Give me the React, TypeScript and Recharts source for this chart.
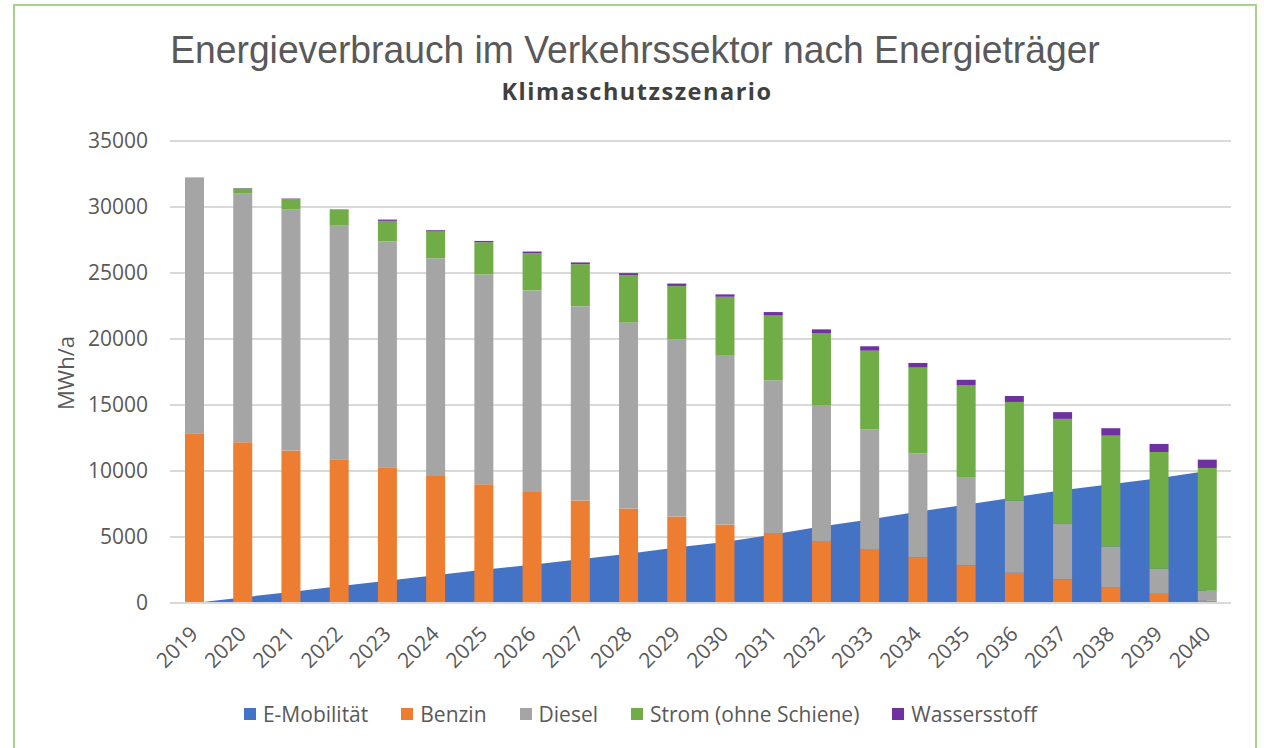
import React from 'react';
import { ComposedChart, Bar, Area, XAxis, YAxis, CartesianGrid } from 'recharts';

const years = ['2019','2020','2021','2022','2023','2024','2025','2026','2027','2028','2029','2030','2031','2032','2033','2034','2035','2036','2037','2038','2039','2040'];
const eMobilitaet = [0,420,840,1260,1680,2100,2520,2900,3320,3740,4200,4630,5180,5800,6320,6920,7440,8000,8540,9000,9450,10000];
const benzin = [12860,12180,11550,10890,10290,9630,9000,8400,7760,7160,6550,5950,5300,4690,4090,3480,2870,2290,1790,1210,700,170];
const diesel = [19360,18830,18250,17700,17100,16490,15890,15280,14730,14100,13440,12840,11570,10310,9080,7870,6680,5450,4240,3070,1890,760];
const strom = [30,400,780,1210,1560,2020,2440,2820,3180,3580,4030,4410,4940,5450,5950,6480,6960,7490,7920,8400,8850,9300];
const wasserstoff = [0,25,60,25,100,100,100,125,130,150,180,180,230,280,330,355,400,450,510,560,610,630];
const yTicks = [0,5000,10000,15000,20000,25000,30000,35000];

const seriesNames = ['E-Mobilität','Benzin','Diesel','Strom (ohne Schiene)','Wassersstoff'];
const seriesColors = ['#4472C4','#ED7D31','#A5A5A5','#70AD47','#7030A0'];

const data = years.map((y, i) => ({
  year: y,
  eMob: eMobilitaet[i],
  benzin: benzin[i],
  diesel: diesel[i],
  strom: strom[i],
  h2: wasserstoff[i],
}));

const FONT = '"Open Sans", sans-serif';
const TEXT = '#595959';

const XTick = (props: any) => {
  const { x, payload } = props;
  return (
    <g transform={`translate(${x},${630})`}>
      <text textAnchor="end" transform="rotate(-45)" dy="0.35em" fill={TEXT} fontSize={21} fontFamily={FONT}>
        {payload.value}
      </text>
    </g>
  );
};

export default function App() {
  return (
    <div style={{ position: 'fixed', left: 0, top: 0, width: 1264, height: 748, overflow: 'hidden', background: '#fff' }}>
      <div style={{ position: 'absolute', left: 13, top: 4, width: 1244, height: 800, border: '2px solid #A9D18E', boxSizing: 'border-box' }} />
      <div style={{ position: 'absolute', left: 0, top: 28, width: 1270, textAlign: 'center', fontFamily: '"Liberation Sans", Arial, sans-serif', fontSize: 39, color: TEXT, lineHeight: '44px', transform: 'scaleX(0.955)', transformOrigin: '635px 0' }}>
        Energieverbrauch im Verkehrssektor nach Energieträger
      </div>
      <div style={{ position: 'absolute', left: 0, top: 76, width: 1274, textAlign: 'center', fontFamily: FONT, fontWeight: 700, fontSize: 23.5, letterSpacing: 1.5, color: '#404040', lineHeight: '30px' }}>
        Klimaschutzszenario
      </div>
      <div style={{ position: 'absolute', left: 65, top: 373, transform: 'translate(-50%,-50%) rotate(-90deg)', fontFamily: FONT, fontSize: 22, color: TEXT, whiteSpace: 'nowrap' }}>
        MWh/a
      </div>
      <div style={{ position: 'absolute', left: 0, top: 0 }}>
        <ComposedChart width={1264} height={748} data={data} margin={{ top: 141, right: 33, bottom: 45, left: 0 }}>
          <CartesianGrid vertical={false} stroke="#D9D9D9" strokeWidth={2} />
          <YAxis
            width={170}
            domain={[0, 35000]}
            ticks={yTicks}
            tickLine={false}
            axisLine={false}
            tickMargin={16}
            tick={{ fill: TEXT, fontSize: 21, fontFamily: FONT }}
            interval={0}
          />
          <XAxis
            dataKey="year"
            height={100}
            tickLine={false}
            axisLine={{ stroke: '#D9D9D9', strokeWidth: 2 }}
            interval={0}
            tick={<XTick />}
          />
          <Area type="linear" dataKey="eMob" name={seriesNames[0]} fill={seriesColors[0]} fillOpacity={1} stroke="none" isAnimationActive={false} />
          <Bar dataKey="benzin" name={seriesNames[1]} stackId="a" fill={seriesColors[1]} barSize={19} isAnimationActive={false} />
          <Bar dataKey="diesel" name={seriesNames[2]} stackId="a" fill={seriesColors[2]} barSize={19} isAnimationActive={false} />
          <Bar dataKey="strom" name={seriesNames[3]} stackId="a" fill={seriesColors[3]} barSize={19} isAnimationActive={false} />
          <Bar dataKey="h2" name={seriesNames[4]} stackId="a" fill={seriesColors[4]} barSize={19} isAnimationActive={false} />
        </ComposedChart>
      </div>
      <div style={{ position: 'absolute', left: 0, top: 702, width: 1281, display: 'flex', justifyContent: 'center', gap: 33, fontFamily: FONT, fontSize: 21, color: TEXT, lineHeight: '24px' }}>
        {seriesNames.map((n, i) => (
          <div key={n} style={{ display: 'flex', alignItems: 'center' }}>
            <span style={{ display: 'inline-block', width: 12, height: 12, background: seriesColors[i], marginRight: 7 }} />
            <span>{n}</span>
          </div>
        ))}
      </div>
    </div>
  );
}
